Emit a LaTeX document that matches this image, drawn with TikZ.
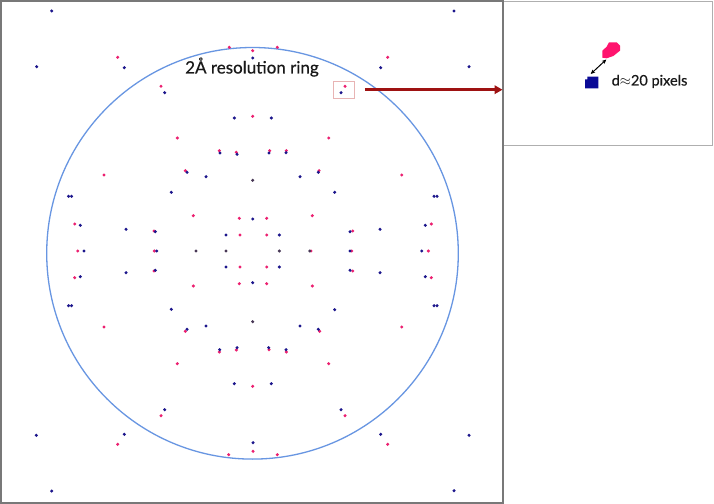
\documentclass[tikz,border=0pt]{standalone}
\usepackage{fontspec}
\setmainfont{Lato}
\newfontfamily\medfont{Lato}[FakeBold=0.5]
\usetikzlibrary{arrows.meta}
\definecolor{spotpink}{RGB}{236,32,112}
\definecolor{spotblue}{RGB}{28,22,140}
\definecolor{spotdark}{RGB}{72,56,86}
\definecolor{ringblue}{RGB}{104,150,226}
\definecolor{framegray}{RGB}{120,120,120}
\definecolor{insetgray}{RGB}{175,175,175}
\definecolor{boxpink}{RGB}{232,180,180}
\definecolor{arrowred}{RGB}{158,18,18}
\definecolor{blobpink}{RGB}{255,20,110}
\definecolor{blobblue}{RGB}{10,10,150}
\tikzset{
  pk/.style={fill=spotpink},
  bl/.style={fill=spotblue},
  dk/.style={fill=spotdark},
  redarrow/.style={draw=arrowred, line width=2.6bp, -{Triangle[length=8bp,width=8.5bp]}},
  label/.style={inner sep=0, anchor=base west, text=black!90},
}
\begin{document}
\begin{tikzpicture}[x=1bp,y=-1bp]
\useasboundingbox (0,0) rectangle (714,504);
\fill[white] (0,0) rectangle (714,504);
% inset frame
\node[draw=insetgray, line width=1bp, minimum width=209.5bp, minimum height=144bp, inner sep=0, anchor=north west] (inset) at (502.5,1) {};
% main frame
\draw[framegray, line width=2bp] (1,1) rectangle (502.5,502.5);
% resolution ring
\draw[ringblue, line width=1.3bp] (252.5,253.3) circle[radius=205.8];
% spots
\foreach \x/\y in {117.7/57.3,229.3/47.3,252.7/50.7,277.3/47.3,161/86.3,252.7/116.3,177.3/138,219.3/150.7,236.3/152.3,269.7/150.7,286.3/150.7,104/175,185.3/170.7,319/170.7,401.7/175,193.3/215.7,312.3/215.7,239.3/218.3,266.7/218.3,74.7/224,431.3/224,154/231,352.7/231,240/235,266.7/235,387.7/57.3,345/86.3,328.7/138,
77.7/251,154.3/251,311/251,351.7/251,428.3/251,
117.7/444.3,228.7/454.7,253/451.3,277.3/454.7,161/415.7,252.7/386.3,177.3/363.7,219.3/352,236.3/350,269/349.7,286.3/352,104/327,185.3/331.3,319.7/331.3,401.7/327,193.3/286,312.3/286,239.3/283.7,266.7/283.7,74.7/277.7,431.3/277.7,154/271,352.7/271,240/267,266.7/267,387.7/444.3,345/415.7,328.7/363.7}
  \fill[pk] (\x,\y) circle[radius=1.7];
\foreach \x/\y in {51.7/11,36.7/66.7,124.3/67.7,252.7/58,164.7/92.7,234.3/118,271.3/118,220/153,237/154.3,269/153,286/152.7,187/172.3,206/176.7,300/176.7,318.3/172.3,171.3/192.3,334.7/192.3,68.5/196.3,71.5/196.3,434/196.3,437/196.3,252.7/219,80.3/225.3,425.3/225.3,126/229.3,380/229.3,155.3/231.7,350/231.7,226/235,279.3/235,454/11,469/66.7,380.7/67.7,341/92.7,
84/251,156.7/251,350/251,421.7/251,
51.7/491,36.3/435.3,124.3/434.3,253/442.7,164.7/409.7,234.3/383.7,271.3/383.7,219.7/349.7,237/347.7,268.7/347.7,286/349.7,187/329.3,206/326,300/326,318.3/329.3,171.3/309.3,334.7/309.7,68.5/305.7,71.5/305.7,434/305.7,437/305.7,252.7/282.7,80.3/276.7,425.3/276.7,126/272.7,380/272.7,155.3/270.3,350/270.3,226/267,279.3/267,454/490.7,469/435.3,380.7/434.3,341/409.7}
  \fill[bl] (\x,\y) circle[radius=1.7];
\foreach \x/\y in {252.7/180.3,196/251,226/251,279.3/251,309.7/251,252.7/321.7}
  \fill[dk] (\x,\y) circle[radius=1.7];
% label of ring
\node[label, font=\medfont\fontsize{17bp}{20bp}\selectfont] (ringlabel) at (185,73.5) {2Å resolution ring};
% zoom box and arrow
\node[draw=boxpink, line width=1bp, minimum width=21bp, minimum height=17.3bp, inner sep=0] (zbox) at (343.8,89.7) {};
\draw[redarrow] ([xshift=10bp]zbox.east) -- (zbox.east -| inset.west);
% inset content
\fill[blobpink] (609,42.3) -- (616.7,42.3) -- (620,45.7) -- (620,50.7) -- (613.3,56) -- (606.7,58.3) -- (602.3,57.7) -- (602.3,50.7) -- (606.7,46.7) -- cycle;
\fill[blobblue] (585,79.3) -- (587.3,79.3) -- (587.3,76.7) -- (598.3,76.7) -- (598.3,88.3) -- (585,88.3) -- cycle;
\coordinate (aend) at (590.7,74);
\coordinate (bend) at (606.3,59.5);
\draw[line width=1bp, {Stealth[length=4.5bp,width=4bp]}-{Stealth[length=4.5bp,width=4bp]}] (aend) -- (bend);
\node[label, font=\medfont\fontsize{14.5bp}{17bp}\selectfont] (dlabel) at (611.5,85.5) {d$\approx$20 pixels};
\end{tikzpicture}
\end{document}
